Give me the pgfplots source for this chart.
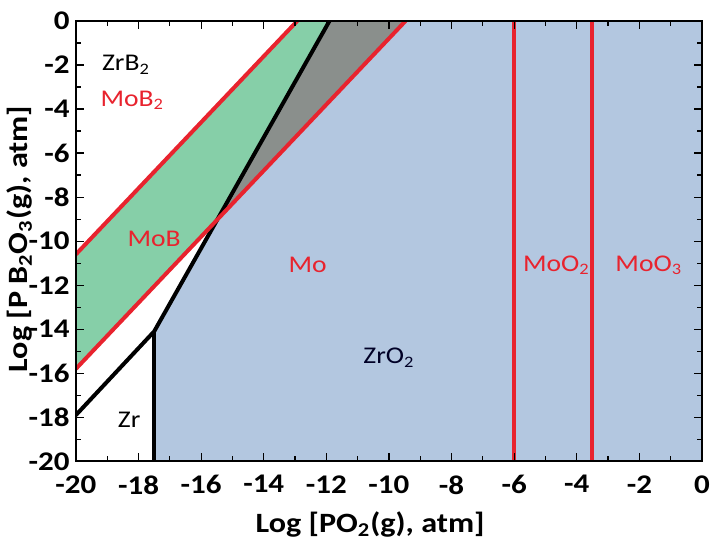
\documentclass[border=0pt]{standalone}
\usepackage{fontspec}
\setmainfont{Carlito}[FakeStretch=1.15]
\usepackage{pgfplots}
\pgfplotsset{compat=1.18}
\definecolor{zro}{HTML}{B3C7E0}
\definecolor{mob}{HTML}{86CFA8}
\definecolor{ovl}{HTML}{8A8F8C}
\definecolor{mored}{HTML}{E8232E}
\begin{document}
\begin{tikzpicture}
\begin{axis}[
  scale only axis,
  width=313.5pt, height=220.5pt,
  xmin=-20, xmax=0, ymin=-20, ymax=0,
  xtick={-20,-18,...,0}, ytick={-20,-18,...,0},
  minor tick num=1,
  tick align=inside,
  tick style={black, line width=0.6pt},
  major tick length=4pt, minor tick length=2.5pt,
  axis line style={black, line width=1.1pt},
  /pgf/number format/assume math mode=true,
  tick label style={font=\bfseries\fontsize{13.5}{13.5}\selectfont},
  xticklabel style={inner xsep=0pt, yshift=-3.5pt},
  yticklabel style={inner xsep=0pt, xshift=-3pt},
  xlabel={Log [PO\textsubscript{2}(g), atm]},
  ylabel={Log [P B\textsubscript{2}O\textsubscript{3}(g), atm]},
  label style={font=\bfseries\fontsize{14}{14}\selectfont, inner sep=0pt},
  xlabel style={at={(axis description cs:0.47,-0.143)}, anchor=center},
  ylabel style={at={(axis description cs:-0.09,0.505)}, anchor=center},
  axis on top,
  clip=true,
]
% ZrO2 + Mo region (blue)
\addplot[fill=zro, draw=none] coordinates {(-17.5,-20) (-17.5,-14.1) (-15.48,-9.02) (-9.47,0) (0,0) (0,-20)} -- cycle;
% ZrB2 + MoB region (green)
\addplot[fill=mob, draw=none] coordinates {(-20,-10.6) (-12.93,0) (-11.9,0) (-15.48,-9.02) (-20,-15.8)} -- cycle;
% ZrO2 + MoB overlap (gray)
\addplot[fill=ovl, draw=none] coordinates {(-15.48,-9.02) (-11.9,0) (-9.47,0)} -- cycle;
% black Zr boundaries
\addplot[black, line width=2pt] coordinates {(-20,-17.9) (-17.5,-14.1) (-11.9,0)};
\addplot[black, line width=2pt] coordinates {(-17.5,-20) (-17.5,-14.1)};
% red Mo boundaries
\addplot[mored, line width=2pt] coordinates {(-20,-10.6) (-12.93,0)};
\addplot[mored, line width=2pt] coordinates {(-20,-15.8) (-9.47,0)};
\addplot[mored, line width=2pt] coordinates {(-6,-20) (-6,0)};
\addplot[mored, line width=2pt] coordinates {(-3.5,-20) (-3.5,0)};
% labels
\begin{scope}[every node/.style={font=\fontsize{12}{12}\selectfont}]
\node[black] at (axis cs:-18.4,-2.0) {ZrB\textsubscript{2}};
\node[mored] at (axis cs:-18.2,-3.6) {MoB\textsubscript{2}};
\node[mored] at (axis cs:-17.5,-9.9) {MoB};
\node[mored] at (axis cs:-12.6,-11.1) {Mo};
\node[black!85!blue] at (axis cs:-10.0,-15.3) {ZrO\textsubscript{2}};
\node[black] at (axis cs:-18.3,-18.1) {Zr};
\node[mored] at (axis cs:-4.65,-11.1) {MoO\textsubscript{2}};
\node[mored] at (axis cs:-1.7,-11.1) {MoO\textsubscript{3}};
\end{scope}
\end{axis}
\path (current axis.south west) ++(-38pt,-41.5pt) coordinate (bbA);
\path (current axis.north east) ++(4.5pt,10.5pt) coordinate (bbB);
\path (bbA) rectangle (bbB);
\end{tikzpicture}
\end{document}
